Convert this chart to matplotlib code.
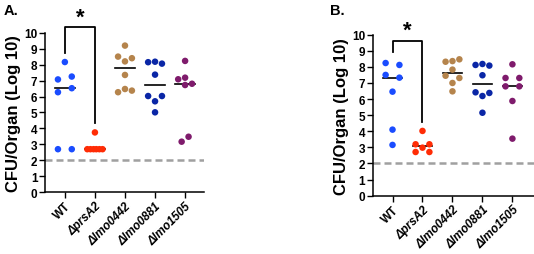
import numpy as np
import matplotlib
matplotlib.use("Agg")
import matplotlib.pyplot as plt

plt.rcParams['font.family'] = ['Liberation Sans', 'DejaVu Sans']

groups = ['WT', 'ΔprsA2', 'Δlmo0442', 'Δlmo0881', 'Δlmo1505']
colors = ['#1a4cff', '#ff2c05', '#b5844c', '#0a26a6', '#7f1b6c']

# panel A values (log10 CFU/organ)
a_wt = [8.16, 7.07, 7.25, 6.27, 6.52, 2.7, 2.7]
a_prsa2 = [3.75, 2.7, 2.7, 2.7, 2.7, 2.7, 2.7]
a_0442 = [9.19, 8.5, 8.2, 8.4, 7.35, 6.27, 6.47, 6.37]
a_0881 = [8.15, 8.18, 8.06, 7.37, 6.03, 6.03, 5.7, 5.01]
a_1505 = [8.23, 7.08, 7.18, 6.72, 6.8, 3.48, 3.17]

# panel B values
b_wt = [8.24, 8.12, 7.5, 7.33, 6.46, 4.1, 3.15]
b_prsa2 = [4.02, 3.19, 2.98, 3.19, 2.71, 2.71]
b_0442 = [8.32, 8.36, 8.47, 7.83, 7.45, 7.31, 7.0, 6.48]
b_0881 = [8.12, 8.18, 8.08, 7.48, 6.42, 6.38, 6.19, 5.15]
b_1505 = [8.16, 7.31, 7.31, 6.79, 6.79, 5.88, 3.54]

detection_limit = 2

# horizontal scatter of the dots (in dot widths)
a_jitter = [
    [0, -1, 1, -1, 1, -1, 1],
    [0, -1.1, -0.65, -0.2, 0.2, 0.65, 1.1],
    [0, -1, 0, 1, 0, -1, 0, 1],
    [-1, 0, 1, 0, -1, 1, 0, 0],
    [0, -1, 0, 0, 1, 0.5, -0.5],
]
b_jitter = [
    [-1, 1, -1, 1, 0, 0, 0],
    [0, -1, 0, 1, -1, 1],
    [-1, 0, 1, 0, -1, 1, 0, 0],
    [-1, 0, 1, 0, -1, 1, 0, 0],
    [0, -1, 1, -1, 1, 0, 0],
]


def draw_panel(ax, data, jitter, bracket, star_y, xmax):
    step = 0.23
    for i, (vals, jit) in enumerate(zip(data, jitter)):
        xs = i + np.array(jit) * step
        ax.scatter(xs, vals, s=22, color=colors[i], edgecolors='none',
                   zorder=3, clip_on=False)
        med = np.median(vals)
        ax.plot([i - 0.33, i + 0.33], [med, med], color='black', lw=1.2,
                zorder=2)

    ax.axhline(detection_limit, color='#a0a0a0', lw=1.8, ls=(0, (2.8, 1.6)),
               zorder=1)

    # significance bracket WT vs prsA2
    y_left, y_top, y_right = bracket
    ax.plot([0, 0, 1, 1], [y_left, y_top, y_top, y_right], color='black',
            lw=1.3, clip_on=False, zorder=2)
    ax.text(0.5, star_y, '*', ha='center', va='center', fontsize=16,
            fontweight='bold', clip_on=False)

    ax.set_xlim(-0.66, xmax)
    ax.set_ylim(0, 10)
    ax.set_yticks(range(0, 11))
    ax.set_xticks(range(len(groups)))
    ax.set_xticklabels(groups, rotation=45, ha='right',
                       rotation_mode='anchor', fontsize=8.5, fontweight='bold')
    for lab in ax.get_xticklabels()[1:]:
        lab.set_fontstyle('italic')
    for lab in ax.get_yticklabels():
        lab.set_fontsize(8.5)
        lab.set_fontweight('bold')
    ax.tick_params(direction='out', length=4, width=1, pad=1.5)
    ax.spines['top'].set_visible(False)
    ax.spines['right'].set_visible(False)
    for s in ('left', 'bottom'):
        ax.spines[s].set_linewidth(1.1)
    ax.set_ylabel('CFU/Organ (Log 10)', fontsize=12, fontweight='bold',
                  labelpad=2)


fig = plt.figure(figsize=(5.34, 2.55), dpi=100)
ax_a = fig.add_axes([0.0843, 0.242, 0.2978, 0.626])
ax_b = fig.add_axes([0.698, 0.229, 0.302, 0.631])

draw_panel(ax_a, [a_wt, a_prsa2, a_0442, a_0881, a_1505], a_jitter,
           (8.7, 10.37, 4.33), 10.95, 4.63)
draw_panel(ax_b, [b_wt, b_prsa2, b_0442, b_0881, b_1505], b_jitter,
           (8.9, 9.63, 4.55), 10.3, 4.72)

fig.text(0.006, 0.985, 'A.', fontsize=10.5, fontweight='bold', va='top')
fig.text(0.618, 0.985, 'B.', fontsize=10.5, fontweight='bold', va='top')

fig.savefig('out.png', dpi=100)
